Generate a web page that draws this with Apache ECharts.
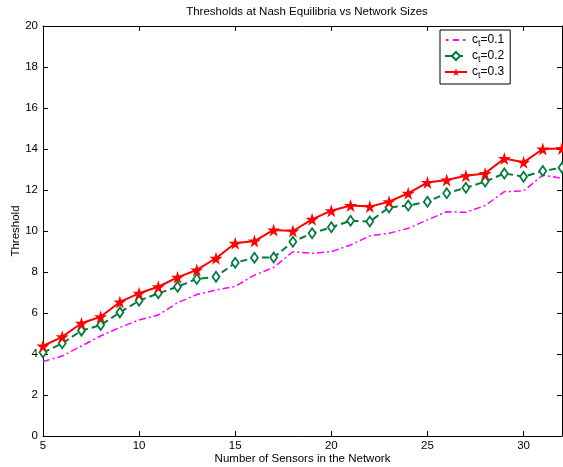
<!DOCTYPE html>
<html>
<head>
<meta charset="utf-8">
<script src="https://cdn.jsdelivr.net/npm/echarts@6/dist/echarts.min.js"></script>
<style>html,body{margin:0;padding:0;background:#fff}#c{width:563px;height:467px}</style>
</head>
<body>
<div id="c"></div>
<script>
var sensors = [5,6,7,8,9,10,11,12,13,14,15,16,17,18,19,20,21,22,23,24,25,26,27,28,29,30,31,32];
var ct01 = [3.63,3.90,4.39,4.88,5.30,5.66,5.90,6.50,6.90,7.12,7.30,7.85,8.22,8.99,8.91,8.99,9.32,9.76,9.89,10.13,10.54,10.94,10.91,11.24,11.92,11.95,12.73,12.57];
var ct02 = [4.07,4.52,5.14,5.41,6.03,6.60,6.96,7.28,7.66,7.77,8.45,8.70,8.71,9.48,9.89,10.18,10.50,10.46,11.15,11.24,11.43,11.84,12.11,12.41,12.81,12.65,12.93,13.09];
var ct03 = [4.39,4.84,5.50,5.82,6.54,6.96,7.28,7.74,8.10,8.67,9.40,9.51,10.05,10.00,10.57,10.99,11.24,11.19,11.43,11.84,12.37,12.49,12.70,12.81,13.54,13.35,14.00,14.03];
var seriesNames = ['c_t=0.1','c_t=0.2','c_t=0.3'];
var yTicks = [0,2,4,6,8,10,12,14,16,18,20];

function pairs(v){ return sensors.map(function(x,i){ return [x, v[i]]; }); }
var star = 'path://M50,0 L61,35 L98,35 L68,57 L79,91 L50,70 L21,91 L32,57 L2,35 L39,35 Z';
var dashDotIcon = 'path://M0,0h0.05v0.05h-0.05z M1,4h2.5v2h-2.5z M8,4h6v2h-6z M18,4h2.5v2h-2.5z M21.95,9.95h0.05v0.05h-0.05z';
var font = 'Liberation Sans, Arial, sans-serif';
var chart = echarts.init(document.getElementById('c'), null, {renderer:'canvas'});
var axisCommon = {
  axisLine:{show:true,onZero:false,lineStyle:{color:'#000',width:1}},
  axisTick:{show:true,inside:true,length:5,lineStyle:{color:'#000'}},
  splitLine:{show:false}
};
chart.setOption({
  animation:false,
  backgroundColor:'#fff',
  title:{text:'Thresholds at Nash Equilibria vs Network Sizes',left:302,top:1,textAlign:'center',
    textStyle:{fontFamily:font,fontSize:11.5,fontWeight:'normal',color:'#000'}},
  grid:{left:43,right:1,top:26,bottom:31,show:false,containLabel:false,outerBoundsMode:'none'},
  legend:{
    orient:'vertical',left:440,top:30,
    backgroundColor:'#fff',borderColor:'#000',borderWidth:1,padding:[4,6,4,4],
    itemGap:2,itemWidth:22,itemHeight:10,
    data:[{name:seriesNames[0],icon:dashDotIcon},seriesNames[1],seriesNames[2]],
    formatter:function(n){ var p=n.split('_t'); return '{a|'+p[0]+'}{s|t}{a|'+p[1]+'}'; },
    textStyle:{fontFamily:font,color:'#000',rich:{
      a:{fontFamily:font,fontSize:12,color:'#000',lineHeight:16,verticalAlign:'middle'},
      s:{fontFamily:font,fontSize:9,color:'#000',lineHeight:9,verticalAlign:'bottom'}
    }}
  },
  xAxis:[
    Object.assign({type:'value',min:5,max:32,interval:5,position:'bottom',
      name:'Number of Sensors in the Network',nameLocation:'middle',nameGap:17,nameMoveOverlap:false,
      nameTextStyle:{fontFamily:font,fontSize:11.5,color:'#000'},
      axisLabel:{fontFamily:font,fontSize:11.5,color:'#000',margin:4,
        formatter:function(v){ return (v%5===0)?String(v):''; }}},axisCommon),
    Object.assign({type:'value',min:5,max:32,interval:5,position:'top',axisLabel:{show:false}},axisCommon)
  ],
  yAxis:[
    Object.assign({type:'value',min:yTicks[0],max:yTicks[yTicks.length-1],interval:2,position:'left',
      name:'Threshold',nameLocation:'middle',nameGap:21,nameMoveOverlap:false,
      nameTextStyle:{fontFamily:font,fontSize:11.5,color:'#000'},
      axisLabel:{fontFamily:font,fontSize:11.5,color:'#000',margin:5}},axisCommon),
    Object.assign({type:'value',min:0,max:20,interval:2,position:'right',axisLabel:{show:false}},axisCommon)
  ],
  series:[
    {name:seriesNames[0],type:'line',data:pairs(ct01),symbol:'none',
      itemStyle:{color:'#ff00ff'},lineStyle:{color:'#ff00ff',width:1.5,type:[7,3,2,3]},z:2},
    {name:seriesNames[1],type:'line',data:pairs(ct02),symbol:'diamond',symbolSize:[7,10],
      itemStyle:{color:'#fff',borderColor:'#007a3d',borderWidth:1.8},
      lineStyle:{color:'#007a3d',width:2,type:[7,4]},z:3},
    {name:seriesNames[2],type:'line',data:pairs(ct03),symbol:star,symbolSize:13,
      itemStyle:{color:'#ff0000'},lineStyle:{color:'#ff0000',width:2},z:4}
  ]
});
</script>
</body>
</html>
